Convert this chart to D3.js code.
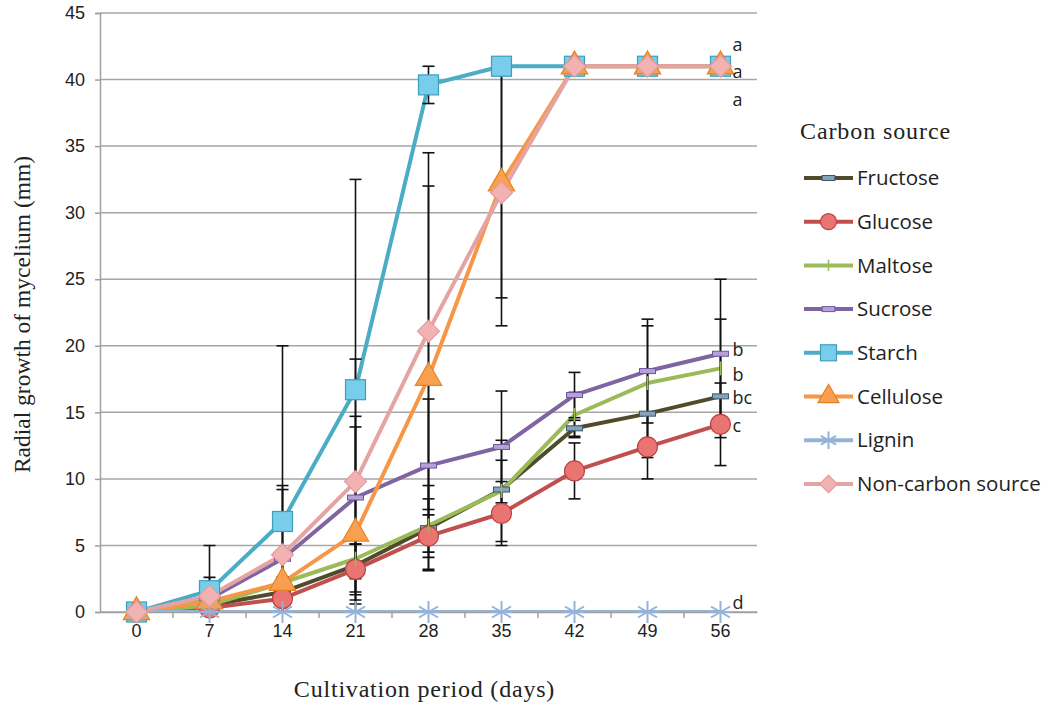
<!DOCTYPE html>
<html>
<head>
<meta charset="utf-8">
<script src="https://cdn.jsdelivr.net/npm/d3@7"></script>
<style>
  body { margin: 0; background: #fff; }
  svg { display: block; }
</style>
</head>
<body>
<div class="chart"></div>
<script>
// days on the x axis
const days = ["0", "7", "14", "21", "28", "35", "42", "49", "56"];

// radial growth (mm)
const fructose = [0, 0.5, 1.5, 3.5, 6.3, 9.2, 13.8, 14.9, 16.2];
const glucose = [0, 0.3, 1.0, 3.2, 5.7, 7.4, 10.6, 12.4, 14.1];
const maltose = [0, 0.5, 2.2, 4.0, 6.5, 9.1, 14.8, 17.2, 18.3];
const sucrose = [0, 1.0, 4.0, 8.6, 11.0, 12.4, 16.3, 18.1, 19.4];
const starch = [0, 1.6, 6.8, 16.7, 39.6, 41, 41, 41, 41];
const cellulose = [0, 0.8, 2.2, 5.9, 17.6, 32.2, 41, 41, 41];
const lignin = [0, 0, 0, 0, 0, 0, 0, 0, 0];
const nonCarbon = [0, 1.2, 4.3, 9.8, 21.1, 31.5, 41, 41, 41];

// error bar sizes (+/-)
const fructoseErr = [0, 0.3, 0.5, 2.0, 3.2, 2.2, 0.6, 3.3, 3.1];
const glucoseErr = [0, 0.3, 0.4, 1.9, 1.6, 2.4, 2.1, 2.4, 3.1];
const maltoseErr = [0, 0.3, 0.4, 1.1, 2.0, 3.8, 1.7, 4.3, 3.7];
const sucroseErr = [0, 0.5, 5.5, 6.1, 5.0, 4.2, 1.7, 3.9, 5.6];
const starchErr = [0, 3.4, 13.2, 15.8, 1.4, 0, 0, 0, 0];
const celluloseErr = [0, 0.4, 0.4, 8.0, 14.4, 8.6, 0, 0, 0];
const ligninErr = [0, 0, 0, 0, 0, 0, 0, 0, 0];
const nonCarbonErr = [0, 1.4, 4.9, 9.2, 13.4, 10.0, 0, 0, 0];

const seriesNames = ["Fructose", "Glucose", "Maltose", "Sucrose", "Starch", "Cellulose", "Lignin", "Non-carbon source"];

// y axis ticks
const yTicks = [0, 5, 10, 15, 20, 25, 30, 35, 40, 45];

// significance letters at the end of the lines
const letters = ["a", "a", "a", "b", "b", "bc", "c", "d"];
const letterValues = [42.6, 40.6, 38.5, 19.7, 17.8, 16.1, 14.0, 0.7];

let width = 1051;
let height = 708;

let margin = {
    top: 13,
    left: 100,
    bottom: 96
};

let plotWidth = 657;
let plotHeight = height - margin.top - margin.bottom;

let svg = d3.select(".chart").append("svg")
    .attr("width", width)
    .attr("height", height);

const xScale = d3.scaleBand()
    .domain(days)
    .range([0, plotWidth]);

const yScale = d3.scaleLinear()
    .domain([0, 45])
    .range([plotHeight, 0]);

const plot = svg.append("g")
    .attr("transform", `translate(${margin.left}, ${margin.top})`);

// gridlines
plot.append("g")
    .selectAll("line")
    .data(yTicks)
    .enter()
    .append("line")
    .attr("x1", 0)
    .attr("x2", plotWidth)
    .attr("y1", d => yScale(d))
    .attr("y2", d => yScale(d))
    .style("stroke", "#a6a6a6")
    .style("stroke-width", 1.5);

// y axis
const yAxis = plot.append("g")
    .call(d3.axisLeft(yScale).tickValues(yTicks).tickSize(5).tickPadding(10));
yAxis.select(".domain").style("stroke", "#a0a0a0").style("stroke-width", 1.5);
yAxis.selectAll(".tick line").style("stroke", "#a0a0a0").style("stroke-width", 1.5);
yAxis.selectAll("text")
    .style("font-family", "'Liberation Sans Narrow', 'Liberation Sans', sans-serif")
    .style("font-size", "18px")
    .style("fill", "#222");

// x axis: labels at the centre, small ticks at band edges
const xAxis = plot.append("g")
    .attr("transform", `translate(0, ${plotHeight})`)
    .call(d3.axisBottom(xScale).tickSize(0).tickPadding(12));
xAxis.select(".domain").style("stroke", "#a0a0a0").style("stroke-width", 1.5);
xAxis.selectAll("text")
    .style("font-family", "'Liberation Sans Narrow', 'Liberation Sans', sans-serif")
    .style("font-size", "18px")
    .style("fill", "#222");

xAxis.selectAll(".edge")
    .data(days.slice(1))
    .enter()
    .append("line")
    .attr("class", "edge")
    .attr("x1", d => xScale(d))
    .attr("x2", d => xScale(d))
    .attr("y1", 0)
    .attr("y2", 6)
    .style("stroke", "#a0a0a0")
    .style("stroke-width", 1.5);

// axis titles
svg.append("text")
    .attr("x", margin.left + plotWidth / 2 - 4)
    .attr("y", 697)
    .attr("text-anchor", "middle")
    .style("font-family", "'Liberation Serif', serif")
    .style("font-size", "24px")
    .style("letter-spacing", "0.8px")
    .style("fill", "#222")
    .text("Cultivation period (days)");

svg.append("text")
    .attr("transform", `translate(30, ${margin.top + plotHeight / 2 + 2}) rotate(-90)`)
    .attr("text-anchor", "middle")
    .style("font-family", "'Liberation Serif', serif")
    .style("font-size", "23.5px")
    .style("fill", "#222")
    .text("Radial growth of mycelium (mm)");

// series table built from the arrays
const allValues = [fructose, glucose, maltose, sucrose, starch, cellulose, lignin, nonCarbon];
const allErrors = [fructoseErr, glucoseErr, maltoseErr, sucroseErr, starchErr, celluloseErr, ligninErr, nonCarbonErr];
const lineColors = ["#4f4b2b", "#c0504d", "#9bbb59", "#8064a2", "#4bacc6", "#f79646", "#95b3d7", "#e4a4a3"];
const markerTypes = ["dash", "circle", "plus", "dash", "square", "triangle", "asterisk", "diamond"];
const markerFill = ["#87a3bc", "#e97471", "#9bbb59", "#b7a2d8", "#77cdea", "#f9a050", "#95b3d7", "#f2b2b1"];
const markerStroke = ["#3d566b", "#b84340", "#9bbb59", "#6f56a0", "#3c9fbe", "#e58025", "#95b3d7", "#e39c9b"];

const series = seriesNames.map((name, i) => ({
    name: name,
    values: allValues[i],
    errors: allErrors[i],
    color: lineColors[i],
    marker: markerTypes[i],
    fill: markerFill[i],
    stroke: markerStroke[i]
}));

const cx = d => xScale(d) + xScale.bandwidth() / 2;

const line = d3.line()
    .x((d, i) => cx(days[i]))
    .y(d => yScale(d));

// clip to the plot area (error bars below 0 are cut)
svg.append("clipPath")
    .attr("id", "plotclip")
    .append("rect")
    .attr("x", -10)
    .attr("y", -20)
    .attr("width", plotWidth + 20)
    .attr("height", plotHeight + 20);

svg.append("clipPath")
    .attr("id", "plotclip2")
    .append("rect")
    .attr("x", -10)
    .attr("y", -20)
    .attr("width", plotWidth + 20)
    .attr("height", plotHeight + 20.5);

const clipped = plot.append("g").attr("clip-path", "url(#plotclip)");

// lines
series.forEach(s => {
    clipped.append("path")
        .datum(s.values)
        .attr("d", line)
        .style("fill", "none")
        .style("stroke", s.color)
        .style("stroke-width", 4)
        .style("stroke-linejoin", "round");
});

// error bars
const errGroup = plot.append("g").attr("clip-path", "url(#plotclip2)");

series.forEach(s => {
    s.values.forEach((v, i) => {
        const e = s.errors[i];
        if (e <= 0) return;
        const x = cx(days[i]);
        const top = yScale(v + e);
        const bottom = Math.min(yScale(v - e), plotHeight);
        errGroup.append("line")
            .attr("x1", x).attr("x2", x)
            .attr("y1", top).attr("y2", bottom)
            .style("stroke", "#111")
            .style("stroke-width", 1.6);
        [top, yScale(v - e)].forEach(y => {
            if (y > plotHeight) return;
            errGroup.append("line")
                .attr("x1", x - 6).attr("x2", x + 6)
                .attr("y1", y).attr("y2", y)
                .style("stroke", "#111")
                .style("stroke-width", 1.6);
        });
    });
});

// marker drawing
function drawMarker(g, type, fill, stroke, scale) {
    scale = scale || 1;
    if (type == "circle") {
        g.append("circle").attr("r", 10 * scale)
            .style("fill", fill).style("stroke", stroke).style("stroke-width", 1.2);
    }
    else if (type == "square") {
        g.append("rect").attr("x", -10 * scale).attr("y", -10 * scale)
            .attr("width", 20 * scale).attr("height", 20 * scale)
            .style("fill", fill).style("stroke", stroke).style("stroke-width", 1.2);
    }
    else if (type == "triangle") {
        g.append("path").attr("d", d3.symbol().type(d3.symbolTriangle).size(300 * scale * scale))
            .style("fill", fill).style("stroke", stroke).style("stroke-width", 1.2);
    }
    else if (type == "diamond") {
        const r = 11 * scale;
        g.append("path").attr("d", `M0,${-r}L${r},0L0,${r}L${-r},0Z`)
            .style("fill", fill).style("stroke", stroke).style("stroke-width", 1.2);
    }
    else if (type == "dash") {
        g.append("rect").attr("x", -8 * scale).attr("y", -2.5)
            .attr("width", 16 * scale).attr("height", 5)
            .style("fill", fill).style("stroke", stroke).style("stroke-width", 1);
    }
    else if (type == "plus") {
        g.append("line").attr("x1", 0).attr("x2", 0).attr("y1", -7 * scale).attr("y2", 7 * scale)
            .style("stroke", stroke).style("stroke-width", 1.6);
    }
    else if (type == "asterisk") {
        const r = 11 * scale;
        [0, 60, 120].forEach(a => {
            const rad = (a + 90) * Math.PI / 180;
            g.append("line")
                .attr("x1", -r * Math.cos(rad)).attr("y1", -r * Math.sin(rad))
                .attr("x2", r * Math.cos(rad)).attr("y2", r * Math.sin(rad))
                .style("stroke", stroke).style("stroke-width", 2);
        });
        g.append("line").attr("x1", -r).attr("x2", r).attr("y1", 0).attr("y2", 0)
            .style("stroke", stroke).style("stroke-width", 2);
    }
}

// markers
series.forEach(s => {
    s.values.forEach((v, i) => {
        const g = plot.append("g")
            .attr("transform", `translate(${cx(days[i])}, ${yScale(v)})`);
        drawMarker(g, s.marker, s.fill, s.stroke);
    });
});

// letters
plot.selectAll(".letter")
    .data(letters)
    .enter()
    .append("text")
    .attr("class", "letter")
    .attr("x", cx("56") + 12)
    .attr("y", (d, i) => yScale(letterValues[i]))
    .attr("dy", "0.35em")
    .style("font-family", "'Open Sans', sans-serif")
    .style("font-size", "18px")
    .style("fill", "#222")
    .text(d => d);

// legend
const legend = svg.append("g").attr("transform", "translate(800, 0)");
legend.append("text")
    .attr("x", 0)
    .attr("y", 139)
    .style("font-family", "'Liberation Serif', serif")
    .style("font-size", "24px")
    .style("letter-spacing", "0.9px")
    .style("fill", "#222")
    .text("Carbon source");

series.forEach((s, i) => {
    const y = 178 + i * 43.7;
    legend.append("line")
        .attr("x1", 4).attr("x2", 53)
        .attr("y1", y).attr("y2", y)
        .style("stroke", s.color)
        .style("stroke-width", 4);
    const g = legend.append("g").attr("transform", `translate(28.5, ${y})`);
    drawMarker(g, s.marker, s.fill, s.stroke, 0.8);
    legend.append("text")
        .attr("x", 57)
        .attr("y", y)
        .attr("dy", "0.35em")
        .style("font-family", "'Open Sans', sans-serif")
        .style("font-size", "20.5px")
        .style("fill", "#222")
        .text(s.name);
});
</script>
</body>
</html>
